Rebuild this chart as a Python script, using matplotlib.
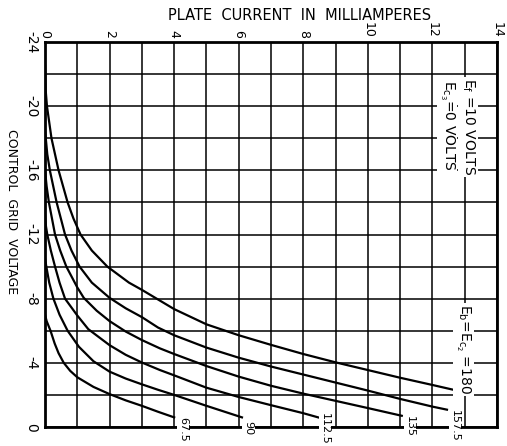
import numpy as np
import matplotlib
matplotlib.use("Agg")
import matplotlib.pyplot as plt

# plate voltages (Eb = Ec2) for each curve
curve_labels = ["67.5", "90", "112.5", "135", "157.5", "180"]

# plate current (mA) and control grid voltage (V)
i_675 = [0.0, 0.05, 0.17, 0.3, 0.42, 0.58, 0.78, 1.0, 1.5, 2.0, 2.5, 3.0, 3.5, 4.0]
eg_675 = [-7.0, -6.6, -6.0, -5.2, -4.6, -4.0, -3.5, -3.1, -2.5, -2.05, -1.66, -1.32, -0.95, -0.6]

i_90 = [0.0, 0.04, 0.13, 0.26, 0.45, 0.7, 1.05, 1.5, 2.0, 2.5, 3.0, 3.5, 4.0, 5.0, 6.1]
eg_90 = [-10.5, -10.0, -9.0, -8.0, -7.0, -6.0, -5.0, -4.1, -3.45, -3.02, -2.66, -2.32, -2.0, -1.32, -0.6]

i_1125 = [0.0, 0.03, 0.07, 0.18, 0.31, 0.45, 0.62, 1.0, 1.34, 2.0, 2.5, 3.0, 3.56, 4.0,
          5.0, 6.0, 7.0, 8.0, 8.46]
eg_1125 = [-13.2, -12.5, -12.0, -11.0, -10.0, -9.0, -8.0, -6.95, -6.1, -5.1, -4.5, -4.02,
           -3.55, -3.22, -2.45, -1.87, -1.36, -0.86, -0.6]

i_135 = [0.0, 0.05, 0.12, 0.31, 0.47, 0.66, 1.0, 1.2, 1.6, 2.0, 2.5, 3.0, 3.56, 4.0,
         5.0, 6.0, 7.0, 8.0, 9.0, 10.0, 11.05]
eg_135 = [-16.0, -15.0, -14.0, -12.0, -11.0, -10.0, -8.7, -8.05, -7.25, -6.6, -5.95, -5.42,
          -4.9, -4.55, -3.8, -3.14, -2.57, -2.08, -1.63, -1.18, -0.7]

i_1575 = [0.0, 0.07, 0.15, 0.36, 0.62, 0.82, 1.07, 1.45, 2.0, 2.5, 3.0, 3.5, 4.0, 5.0,
          6.0, 7.0, 8.0, 9.0, 10.0, 11.0, 12.0, 12.45]
eg_1575 = [-18.5, -17.0, -16.0, -14.0, -12.0, -11.0, -10.0, -9.0, -8.05, -7.4, -6.85, -6.2,
           -5.72, -4.95, -4.32, -3.77, -3.27, -2.77, -2.27, -1.75, -1.27, -1.08]

i_180 = [0.0, 0.02, 0.06, 0.2, 0.42, 0.7, 0.88, 1.1, 1.45, 1.93, 2.6, 3.0, 4.0, 5.0,
         6.0, 7.0, 8.0, 9.0, 10.0, 11.0, 12.0, 12.65]
eg_180 = [-22.5, -21.0, -20.0, -18.0, -16.0, -14.0, -13.0, -12.0, -11.0, -10.0, -9.0, -8.55,
          -7.35, -6.4, -5.72, -5.12, -4.55, -4.03, -3.55, -3.07, -2.62, -2.32]

x_ticks = [0, 2, 4, 6, 8, 10, 12, 14]
y_ticks = [-24, -20, -16, -12, -8, -4, 0]

curves = [(i_675, eg_675), (i_90, eg_90), (i_1125, eg_1125),
          (i_135, eg_135), (i_1575, eg_1575), (i_180, eg_180)]

fig = plt.figure(figsize=(5.07, 4.46), dpi=100)
ax = fig.add_axes([0.0888, 0.0426, 0.8915, 0.8632])

ax.set_xlim(0, 14)
ax.set_ylim(0, -24)

# grid
for xv in np.arange(0, 15, 1):
    ax.axvline(xv, color="black", lw=1.1, zorder=1)
for yv in np.arange(-24, 1, 2):
    ax.axhline(yv, color="black", lw=1.1, zorder=1)

for (ic, eg) in curves:
    ax.plot(ic, eg, color="black", lw=1.6, zorder=3)

for sp in ax.spines.values():
    sp.set_linewidth(2)

ax.xaxis.tick_top()
ax.set_xticks(x_ticks)
ax.set_xticklabels([str(v) for v in x_ticks], rotation=-90, fontsize=9)
ax.set_yticks(y_ticks)
ax.set_yticklabels([str(v) for v in y_ticks], rotation=-90, fontsize=10,
                   va="center")
ax.tick_params(axis="x", length=0, pad=3)
ax.tick_params(axis="y", length=0, pad=5)

fig.text(300 / 507, 1 - 16 / 446, "PLATE  CURRENT  IN  MILLIAMPERES",
         ha="center", va="center", fontsize=10.5)
fig.text(11 / 507, 1 - 212 / 446, "CONTROL  GRID  VOLTAGE", rotation=-90,
         ha="center", va="center", fontsize=9)

box = dict(facecolor="white", edgecolor="none", pad=1)

ax.text(13.1, -18.7, "E$_\\mathrm{f}$ =10 VOLTS", rotation=-90, ha="center",
        va="center", fontsize=10, bbox=box, zorder=5)
ax.text(12.45, -18.8, "E$_\\mathrm{c_3}$=0 VOLTS", rotation=-90, ha="center",
        va="center", fontsize=10, bbox=box, zorder=5)
ax.text(12.95, -4.85, "E$_\\mathrm{b}$=E$_\\mathrm{c_2}$ =180", rotation=-90,
        ha="center", va="center", fontsize=10, bbox=box, zorder=5)

# curve labels below the curve ends
label_x = [4.27, 6.3, 8.67, 11.3, 12.7]
label_y = [-0.6, -0.4, -0.85, -0.7, -1.05]
for lx, ly, lab in zip(label_x, label_y, curve_labels[:5]):
    ax.text(lx, ly, lab, rotation=-90, ha="center", va="top",
            fontsize=8, bbox=box, zorder=5, clip_on=False)

fig.savefig("out.png", dpi=100)
